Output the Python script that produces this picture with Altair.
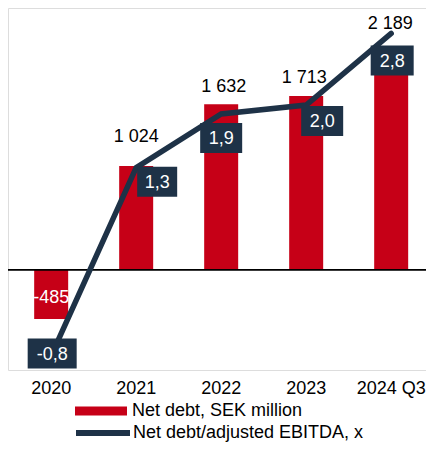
import altair as alt
import pandas as pd

years = ["2020", "2021", "2022", "2023", "2024 Q3"]
net_debt = [-485, 1024, 1632, 1713, 2189]
ratio = [-0.8, 1.3, 1.9, 2.0, 2.8]
bar_name = "Net debt, SEK million"
line_name = "Net debt/adjusted EBITDA, x"

RED = "#C60017"
NAVY = "#1E3247"
FONT = "Liberation Sans"

df = pd.DataFrame({
    "year": years,
    "net_debt": net_debt,
    "ratio": ratio,
})
df["debt_label"] = [f"{v:,}".replace(",", " ") for v in net_debt]
df["ratio_label"] = [f"{r:.1f}".replace(".", ",") for r in ratio]
df["bar_series"] = bar_name
df["line_series"] = line_name

DEBT_DOMAIN = [-989, 2581]
RATIO_DOMAIN = [-0.961, 3.084]

x_scale = alt.Scale(paddingInner=0.6, paddingOuter=0.2588, align=0.595, round=False)
x_axis = alt.Axis(title=None, labelAngle=0, domain=False, ticks=False, tickSize=0,
                  labelPadding=23, labelBaseline="alphabetic", labelFontSize=18,
                  labelColor="black", labelFont=FONT, grid=False)
x_enc = alt.X("year:N", sort=years, scale=x_scale, axis=x_axis)


def y_debt(field="net_debt"):
    return alt.Y(f"{field}:Q", scale=alt.Scale(domain=DEBT_DOMAIN, nice=False, zero=False), axis=None)


def y_ratio():
    return alt.Y("ratio:Q", scale=alt.Scale(domain=RATIO_DOMAIN, nice=False, zero=False), axis=None)


base = alt.Chart(df)

bars = base.mark_bar().encode(
    x=x_enc,
    y=y_debt(),
    fill=alt.Fill("bar_series:N", scale=alt.Scale(domain=[bar_name], range=[RED]),
                  legend=alt.Legend(orient="none", legendX=67, legendY=377, title=None,
                                    symbolType="M-1,-0.173L1,-0.173L1,0.173L-1,0.173Z",
                                    symbolSize=2704, symbolStrokeWidth=0, labelFontSize=18,
                                    labelFont=FONT, labelColor="black", labelOffset=5,
                                    padding=0, labelLimit=400)),
)

zero_rule = base.transform_calculate(zero="0").mark_rule(color="black", strokeWidth=1.2).encode(
    y=y_debt("zero"))

layers = [bars, zero_rule]

# value label offsets (dx, dy) per bar
debt_offsets = [(0, -16), (0, -24), (2.5, -12), (-2, -13), (-1, -19)]
for i, yr in enumerate(years):
    dx, dy = debt_offsets[i]
    color = "white" if net_debt[i] < 0 else "black"
    layers.append(
        base.transform_filter(alt.datum.year == yr).mark_text(
            font=FONT, fontSize=18, color=color, dx=dx, dy=dy, baseline="alphabetic", align="center"
        ).encode(x=x_enc, y=y_debt(), text="debt_label:N")
    )

line = base.mark_line(strokeWidth=5.5, strokeCap="round").encode(
    x=x_enc,
    y=y_ratio(),
    stroke=alt.Stroke("line_series:N", scale=alt.Scale(domain=[line_name], range=[NAVY]),
                      legend=alt.Legend(orient="none", legendX=65, legendY=395, title=None,
                                        symbolType="stroke", symbolSize=2916, symbolStrokeWidth=6,
                                        labelFontSize=18, labelFont=FONT, labelColor="black",
                                        labelOffset=0, padding=0, labelLimit=400)),
)
layers.append(line)

# box offsets (dx, dy, width) per ratio label
box_specs = [(1, -2, 49), (21, 14, 40), (0, 24, 42), (16, 16, 42), (1, 27, 43)]
BOX_H = 30
for i, yr in enumerate(years):
    dx, dy, w = box_specs[i]
    h = BOX_H / w
    path = f"M-1,-{h:.4f}L1,-{h:.4f}L1,{h:.4f}L-1,{h:.4f}Z"
    layers.append(
        base.transform_filter(alt.datum.year == yr).mark_point(
            shape=path, size=w * w, filled=True, fill=NAVY, opacity=1, strokeWidth=0,
            xOffset=dx, yOffset=dy
        ).encode(x=x_enc, y=y_ratio())
    )
    layers.append(
        base.transform_filter(alt.datum.year == yr).mark_text(
            font=FONT, fontSize=18, color="white", dx=dx, dy=dy + 6.4,
            baseline="alphabetic", align="center"
        ).encode(x=x_enc, y=y_ratio(), text="ratio_label:N")
    )

chart = alt.layer(*layers).resolve_scale(y="independent").properties(
    width=418, height=362,
    autosize=alt.AutoSizeParams(type="none"),
    padding={"left": 0, "top": 0, "right": 0, "bottom": 76},
).configure_view(stroke=None).configure(background="white")

chart.save("out.html", embed_options={"renderer": "svg", "actions": False})
